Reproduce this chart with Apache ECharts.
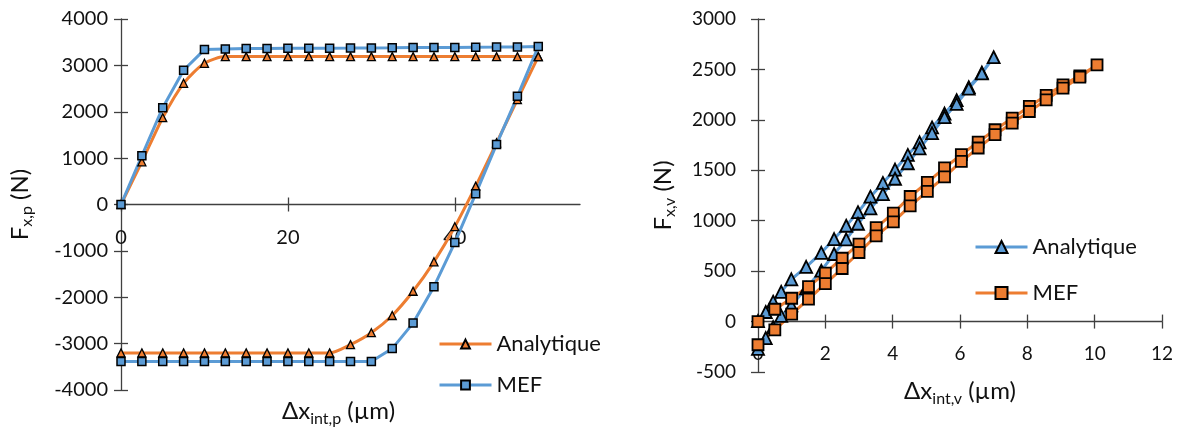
<!DOCTYPE html>
<html>
<head>
<meta charset="utf-8">
<script src="https://cdn.jsdelivr.net/npm/echarts@6/dist/echarts.min.js"></script>
<style>html,body{margin:0;padding:0;background:#fff}#c{width:1181px;height:430px}</style>
</head>
<body>
<div id="c"></div>
<script>
// ---------- Left chart (plastic) data ----------
const xP = [0, 2.5, 5, 7.5, 10, 12.5, 15, 17.5, 20, 22.5, 25, 27.5, 30, 32.5, 35, 37.5, 40, 42.5, 45, 47.5, 50];
// loading branch (x increasing)
const analytiqueLoadP = [0, 921, 1872, 2613, 3045, 3189, 3189, 3189, 3189, 3189, 3189, 3189, 3189, 3189, 3189, 3189, 3189, 3189, 3189, 3189, 3189];
const mefLoadP = [0, 1051, 2088, 2894, 3340, 3355, 3362, 3365, 3369, 3370, 3371, 3373, 3376, 3378, 3384, 3386, 3388, 3391, 3394, 3398, 3405];
// unloading branch, listed at the same x values (x increasing)
const analytiqueUnloadP = [-3200, -3200, -3200, -3200, -3200, -3200, -3200, -3200, -3200, -3200, -3200, -3021, -2764, -2393, -1871, -1236, -479, 396, 1330, 2260, 3189];
const mefUnloadP = [-3385, -3385, -3385, -3385, -3385, -3385, -3385, -3385, -3385, -3385, -3385, -3385, -3385, -3107, -2557, -1771, -821, 230, 1296, 2333, 3405];
const xTicksP = [0, 20, 40];

// ---------- Right chart (elastic) data ----------
const xAnaV = [0, 0.23, 0.45, 0.69, 0.99, 1.43, 1.88, 2.26, 2.62, 2.97, 3.34, 3.71, 4.07, 4.45, 4.8, 5.17, 5.54, 5.9, 6.26, 6.65, 7.0];
const anaUpV = [5, 95, 197, 295, 419, 543, 682, 818, 950, 1085, 1238, 1375, 1507, 1652, 1777, 1925, 2062, 2195, 2324, 2469, 2621];
const anaLowV = [-270, -164, -55, 56, 160, 330, 505, 670, 815, 970, 1122, 1263, 1416, 1570, 1717, 1869, 2027, 2159, 2310, 2460, 2621];
const xMefV = [0, 0.5, 1.0, 1.5, 2.0, 2.5, 3.0, 3.51, 4.02, 4.52, 5.03, 5.54, 6.04, 6.54, 7.04, 7.55, 8.06, 8.56, 9.06, 9.56, 10.07];
const mefUpV = [0, 122, 231, 347, 480, 628, 767, 932, 1075, 1240, 1381, 1523, 1655, 1780, 1902, 2017, 2133, 2242, 2347, 2436, 2545];
const mefLowV = [-230, -83, 73, 222, 377, 526, 685, 850, 989, 1147, 1290, 1434, 1589, 1721, 1853, 1968, 2083, 2199, 2314, 2423, 2545];
const xTicksV = [0, 2, 4, 6, 8, 10, 12];

const legendNames = ['Analytique', 'MEF'];

// ---------- helpers ----------
function zip(xs, ys) { return xs.map((x, i) => [x, ys[i]]); }
function loop(xs, up, low) {
  const a = zip(xs, up);
  const b = zip(xs, low).reverse().slice(1);
  return a.concat(b);
}
const plain = v => String(v);

const BLUE = '#5B9BD5', ORANGE = '#ED7D31';
const FONT = 'Lato, "Noto Sans", "DejaVu Sans", sans-serif';
const AX = '#404040';
const TXT = '#111';

// layout
const G1 = { left: 121, top: 19, width: 459, height: 371 };
const G2 = { left: 758, top: 19, width: 404, height: 353 };
const Y1 = { min: -4000, max: 4000 };
const Y2 = { min: -500, max: 3000 };
// shift the x axes up so they sit at y = 0
const off1 = -G1.height * (0 - Y1.min) / (Y1.max - Y1.min);
const off2 = -G2.height * (0 - Y2.min) / (Y2.max - Y2.min);

function nameStyle(size, sub) {
  return {
    fontFamily: FONT, color: TXT,
    rich: {
      m: { fontFamily: FONT, fontSize: size, color: TXT, lineHeight: 30 },
      s: { fontFamily: FONT, fontSize: sub, color: TXT, lineHeight: 17, verticalAlign: 'bottom' }
    }
  };
}
const tickStyle = { color: AX, width: 1.3 };

const chart = echarts.init(document.getElementById('c'), null, { renderer: 'canvas' });

const option = {
  animation: false,
  backgroundColor: '#fff',
  grid: [
    Object.assign({ containLabel: false, outerBoundsMode: 'none' }, G1),
    Object.assign({ containLabel: false, outerBoundsMode: 'none' }, G2)
  ],
  xAxis: [
    { gridIndex: 0, type: 'value', min: 0, max: 55, interval: 20, position: 'bottom', offset: off1,
      axisLine: { onZero: false, lineStyle: tickStyle },
      axisTick: { show: true, length: 7, customValues: xTicksP, lineStyle: tickStyle },
      axisLabel: { customValues: xTicksP, showMinLabel: true, margin: 23, fontSize: 20, fontFamily: FONT, color: TXT, formatter: plain },
      splitLine: { show: false },
      name: '{m|Δx}{s|int,p}{m| (µm)}', nameLocation: 'middle', nameGap: 192,
      nameTextStyle: Object.assign(nameStyle(24, 16), { padding: [0, 24, 0, 0] })
    },
    { gridIndex: 0, type: 'value', min: 0, max: 55, interval: 20, position: 'bottom', offset: off1,
      axisLine: { show: false, onZero: false },
      axisTick: { show: true, inside: true, length: 7, customValues: xTicksP, lineStyle: tickStyle },
      axisLabel: { show: false }, splitLine: { show: false }
    },
    { gridIndex: 1, type: 'value', min: 0, max: 12, interval: 2, position: 'bottom', offset: off2,
      axisLine: { onZero: false, lineStyle: tickStyle },
      axisTick: { show: true, length: 7, customValues: xTicksV, lineStyle: tickStyle },
      axisLabel: { customValues: xTicksV, showMinLabel: true, margin: 23, fontSize: 19, fontFamily: FONT, color: TXT, formatter: plain },
      splitLine: { show: false },
      name: '{m|Δx}{s|int,v}{m| (µm)}', nameLocation: 'middle', nameGap: 55,
      nameTextStyle: nameStyle(24, 16)
    },
    { gridIndex: 1, type: 'value', min: 0, max: 12, interval: 2, position: 'bottom', offset: off2,
      axisLine: { show: false, onZero: false },
      axisTick: { show: true, inside: true, length: 7, customValues: xTicksV, lineStyle: tickStyle },
      axisLabel: { show: false }, splitLine: { show: false }
    }
  ],
  yAxis: [
    { gridIndex: 0, type: 'value', min: Y1.min, max: Y1.max, interval: 1000, position: 'left',
      axisLine: { show: true, onZero: false, lineStyle: tickStyle },
      axisTick: { show: true, length: 7, lineStyle: tickStyle },
      axisLabel: { margin: 13, fontSize: 20, fontFamily: FONT, color: TXT, formatter: plain },
      splitLine: { show: false },
      name: '{m|F}{s|x,p}{m| (N)}', nameLocation: 'middle', nameGap: 86,
      nameTextStyle: nameStyle(24, 16)
    },
    { gridIndex: 0, type: 'value', min: Y1.min, max: Y1.max, interval: 1000, position: 'left',
      axisLine: { show: false, onZero: false },
      axisTick: { show: true, inside: true, length: 7, lineStyle: tickStyle },
      axisLabel: { show: false }, splitLine: { show: false }
    },
    { gridIndex: 1, type: 'value', min: Y2.min, max: Y2.max, interval: 500, position: 'left',
      axisLine: { show: true, onZero: false, lineStyle: tickStyle },
      axisTick: { show: true, length: 7, lineStyle: tickStyle },
      axisLabel: { margin: 22, fontSize: 19, fontFamily: FONT, color: TXT, formatter: plain },
      splitLine: { show: false },
      name: '{m|F}{s|x,v}{m| (N)}', nameLocation: 'middle', nameGap: 80,
      nameTextStyle: nameStyle(24, 16)
    },
    { gridIndex: 1, type: 'value', min: Y2.min, max: Y2.max, interval: 500, position: 'left',
      axisLine: { show: false, onZero: false },
      axisTick: { show: true, inside: true, length: 7, lineStyle: tickStyle },
      axisLabel: { show: false }, splitLine: { show: false }
    }
  ],
  legend: [
    { data: legendNames, orient: 'vertical', left: 438, top: 333, itemWidth: 52, itemHeight: 11, itemGap: 19,
      padding: 0, lineStyle: { width: 3 }, textStyle: { fontSize: 22, fontFamily: FONT, color: TXT } },
    { data: legendNames.map(n => n + ' (v)'), orient: 'vertical', left: 974, top: 236, itemWidth: 52, itemHeight: 15, itemGap: 24,
      padding: 0, lineStyle: { width: 3 }, formatter: n => n.replace(' (v)', ''),
      textStyle: { fontSize: 22, fontFamily: FONT, color: TXT } }
  ],
  series: [
    { name: 'Analytique', type: 'line', xAxisIndex: 0, yAxisIndex: 0,
      data: zip(xP, analytiqueLoadP), smooth: 0.25,
      symbol: 'triangle', symbolSize: 8,
      lineStyle: { color: ORANGE, width: 3 },
      itemStyle: { color: ORANGE, borderColor: '#000', borderWidth: 1.3 } },
    { name: 'Analytique', type: 'line', xAxisIndex: 0, yAxisIndex: 0,
      data: zip(xP, analytiqueUnloadP), smooth: 0.25,
      symbol: 'triangle', symbolSize: 8,
      lineStyle: { color: ORANGE, width: 3 },
      itemStyle: { color: ORANGE, borderColor: '#000', borderWidth: 1.3 } },
    { name: 'MEF', type: 'line', xAxisIndex: 0, yAxisIndex: 0,
      data: zip(xP, mefLoadP).concat(zip(xP, mefUnloadP).reverse().slice(1)),
      symbol: 'rect', symbolSize: 8,
      lineStyle: { color: BLUE, width: 3 },
      itemStyle: { color: BLUE, borderColor: '#000', borderWidth: 1.5 } },
    { name: 'Analytique (v)', type: 'line', xAxisIndex: 2, yAxisIndex: 2,
      data: loop(xAnaV, anaUpV, anaLowV),
      symbol: 'triangle', symbolSize: 12,
      lineStyle: { color: BLUE, width: 3 },
      itemStyle: { color: BLUE, borderColor: '#000', borderWidth: 1.8 } },
    { name: 'MEF (v)', type: 'line', xAxisIndex: 2, yAxisIndex: 2,
      data: loop(xMefV, mefUpV, mefLowV),
      symbol: 'rect', symbolSize: 11,
      lineStyle: { color: ORANGE, width: 3 },
      itemStyle: { color: ORANGE, borderColor: '#000', borderWidth: 1.8 } }
  ]
};
chart.setOption(option);
</script>
</body>
</html>
